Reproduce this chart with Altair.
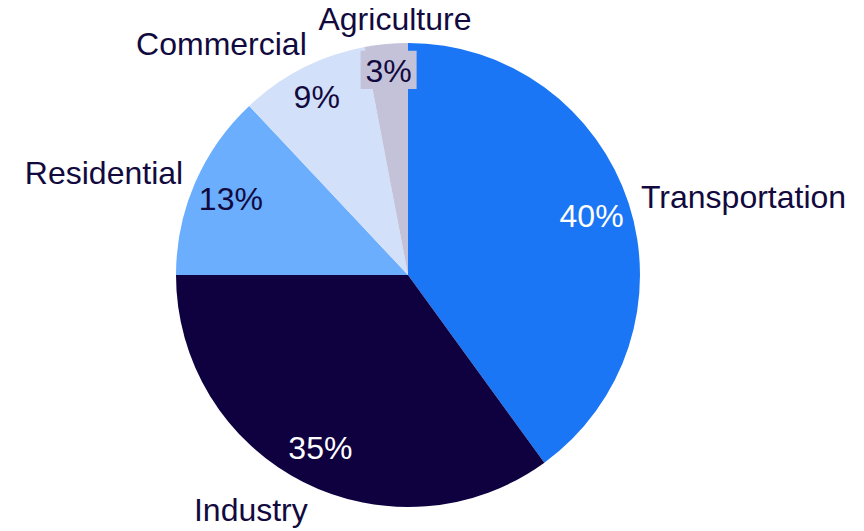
import altair as alt
import pandas as pd

# ---- data ----
categories = ["Transportation", "Industry", "Residential", "Commercial", "Agriculture"]
shares = [40, 35, 13, 9, 3]
pct_labels = ["40%", "35%", "13%", "9%", "3%"]

# ---- styles ----
slice_colors = ["#1a76f4", "#0f0040", "#6aaefd", "#d2e0fa", "#c4c2d9"]
pct_colors = ["#ffffff", "#ffffff", "#120a3e", "#120a3e", "#120a3e"]
TEXT = "#120a3e"
FONT = "Liberation Sans"
FS = 32
CX, CY = 400, 267
R = 232

df = pd.DataFrame({
    "category": categories,
    "share": shares,
    "pct": pct_labels,
    "order": list(range(len(categories))),
})

base = (
    alt.Chart(df)
    .transform_window(cum="sum(share)", sort=[alt.SortField("order")], frame=[None, 0])
    .transform_joinaggregate(total="sum(share)")
    .transform_calculate(
        t0="2*PI*(datum.cum - datum.share)/datum.total",
        t1="2*PI*datum.cum/datum.total",
    )
    .transform_calculate(tm="(datum.t0 + datum.t1)/2")
    .transform_calculate(deg="datum.tm*180/PI")
)

pos = dict(x=alt.value(CX), y=alt.value(CY))

arcs = base.mark_arc(outerRadius=R).encode(
    theta=alt.Theta("t0:Q", scale=None),
    theta2="t1:Q",
    color=alt.Color("category:N", scale=alt.Scale(domain=categories, range=slice_colors), legend=None),
    **pos,
)

# background box behind the small-slice label
BOX_R = 206
box = (
    base.transform_filter("datum.share < 5")
    .transform_calculate(
        bx=f"{CX} + {BOX_R}*sin(datum.tm)",
        by=f"{CY} - {BOX_R}*cos(datum.tm)",
    )
    .mark_point(shape="M-1,-0.68H1V0.68H-1Z", filled=True, opacity=1, size=3136, strokeWidth=0)
    .encode(
        x=alt.X("bx:Q", scale=None, axis=None),
        y=alt.Y("by:Q", scale=None, axis=None),
        color=alt.Color("category:N", scale=alt.Scale(domain=categories, range=slice_colors), legend=None),
    )
)

pct_specs = [
    ("datum.share >= 10", 193),
    ("datum.share >= 5 && datum.share < 10", 201),
    ("datum.share < 5", 206),
]
pct_layers = []
for flt, rad in pct_specs:
    pct_layers.append(
        base.transform_filter(flt).mark_text(
            radius=rad, font=FONT, fontSize=FS, align="center", baseline="middle", dy=2
        ).encode(
            theta=alt.Theta("tm:Q", scale=None),
            text="pct:N",
            fill=alt.Fill("category:N", scale=alt.Scale(domain=categories, range=pct_colors), legend=None),
            **pos,
        )
    )

label_specs = [
    ("datum.deg < 20 || datum.deg >= 340", "center", "alphabetic", 10, -1),
    ("datum.deg >= 20 && datum.deg < 60", "left", "alphabetic", 2, 0),
    ("datum.deg >= 60 && datum.deg < 120", "left", "middle", 0, -1),
    ("datum.deg >= 120 && datum.deg < 160", "left", "top", 2, 0),
    ("datum.deg >= 160 && datum.deg < 200", "center", "top", 0, 0),
    ("datum.deg >= 200 && datum.deg < 250", "right", "top", 11, 3),
    ("datum.deg >= 250 && datum.deg < 310", "right", "middle", 0, -4),
    ("datum.deg >= 310 && datum.deg < 340", "right", "alphabetic", 10, -2),
]
label_layers = []
for flt, al, bl, dx, dy in label_specs:
    label_layers.append(
        base.transform_filter(flt).mark_text(
            radius=245, font=FONT, fontSize=FS, align=al, baseline=bl, dx=dx, dy=dy, color=TEXT
        ).encode(
            theta=alt.Theta("tm:Q", scale=None),
            text="category:N",
            **pos,
        )
    )

chart = (
    alt.layer(arcs, box, *pct_layers, *label_layers)
    .resolve_scale(color="independent", fill="independent")
    .properties(width=840, height=523, autosize=alt.AutoSizeParams(type="none"), padding=0)
    .configure_view(stroke=None)
)

chart.save("out.html", embed_options={"renderer": "svg", "actions": False})
